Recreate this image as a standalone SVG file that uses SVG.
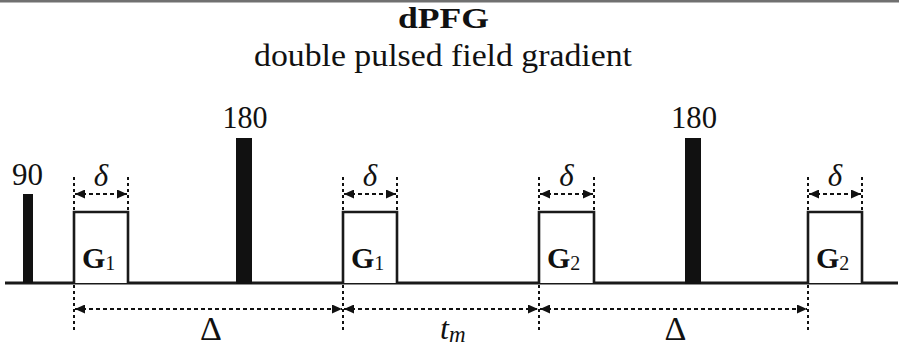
<svg xmlns="http://www.w3.org/2000/svg" width="899" height="348" viewBox="0 0 899 348">
<style>
.serif{font-family:"Liberation Serif","Times New Roman","DejaVu Serif",serif;fill:#111}
.b{font-weight:bold}
.it{font-style:italic}
.dash{stroke:#111;stroke-width:2;stroke-dasharray:4 3;fill:none}
.vdash{stroke:#111;stroke-width:2;stroke-dasharray:3 3;fill:none}
.grad{fill:#fff;stroke:#1a1a1a;stroke-width:2.6}
.pulse{fill:#111}
</style>
<defs>
<marker id="ah" markerUnits="userSpaceOnUse" markerWidth="11" markerHeight="9" refX="10" refY="4.5" orient="auto-start-reverse">
<path d="M0,0 L10,4.5 L0,9 Z" fill="#111"/>
</marker>
</defs>
<rect x="0" y="0" width="899" height="2.5" fill="#707070"/>
<g id="title">
<text class="serif b" x="443.5" y="28" font-size="30" text-anchor="middle" textLength="91" lengthAdjust="spacingAndGlyphs">dPFG</text>
<text class="serif" x="443" y="66" font-size="31" text-anchor="middle" textLength="378" lengthAdjust="spacingAndGlyphs">double pulsed field gradient</text>
</g>
<g id="baseline">
<line x1="5" y1="283" x2="898" y2="283" stroke="#1a1a1a" stroke-width="3"/>
</g>
<g id="pulse90">
<rect class="pulse" x="23" y="194" width="10" height="89"/>
<text class="serif" x="27.5" y="185" font-size="32" text-anchor="middle" textLength="31" lengthAdjust="spacingAndGlyphs">90</text>
</g>
<g id="pulse180a">
<rect class="pulse" x="236" y="138" width="16" height="146"/>
<text class="serif" x="245" y="128" font-size="32" text-anchor="middle" textLength="45" lengthAdjust="spacingAndGlyphs">180</text>
</g>
<g id="pulse180b">
<rect class="pulse" x="685" y="138" width="16" height="146"/>
<text class="serif" x="694" y="128" font-size="32" text-anchor="middle" textLength="46" lengthAdjust="spacingAndGlyphs">180</text>
</g>
<g id="grad1">
<path class="grad" d="M74,283 V212 H128 V283"/>
<text class="serif" x="82" y="268"><tspan class="b" font-size="30">G</tspan><tspan font-size="20" dy="2">1</tspan></text>
<line class="vdash" x1="74" y1="177" x2="74" y2="211"/>
<line class="vdash" x1="128" y1="177" x2="128" y2="211"/>
<line class="dash" x1="75" y1="194" x2="127" y2="194" marker-start="url(#ah)" marker-end="url(#ah)"/>
<text class="serif it" x="101" y="186" font-size="31" text-anchor="middle">δ</text>
</g>
<g id="grad2">
<path class="grad" d="M343,283 V212 H397 V283"/>
<text class="serif" x="351" y="268"><tspan class="b" font-size="30">G</tspan><tspan font-size="20" dy="2">1</tspan></text>
<line class="vdash" x1="343" y1="177" x2="343" y2="211"/>
<line class="vdash" x1="397" y1="177" x2="397" y2="211"/>
<line class="dash" x1="344" y1="194" x2="396" y2="194" marker-start="url(#ah)" marker-end="url(#ah)"/>
<text class="serif it" x="370" y="186" font-size="31" text-anchor="middle">δ</text>
</g>
<g id="grad3">
<path class="grad" d="M539,283 V212 H594 V283"/>
<text class="serif" x="547" y="268"><tspan class="b" font-size="30">G</tspan><tspan font-size="20" dy="2">2</tspan></text>
<line class="vdash" x1="539" y1="177" x2="539" y2="211"/>
<line class="vdash" x1="594" y1="177" x2="594" y2="211"/>
<line class="dash" x1="540" y1="194" x2="593" y2="194" marker-start="url(#ah)" marker-end="url(#ah)"/>
<text class="serif it" x="566.5" y="186" font-size="31" text-anchor="middle">δ</text>
</g>
<g id="grad4">
<path class="grad" d="M808,283 V212 H862 V283"/>
<text class="serif" x="816" y="268"><tspan class="b" font-size="30">G</tspan><tspan font-size="20" dy="2">2</tspan></text>
<line class="vdash" x1="808" y1="177" x2="808" y2="211"/>
<line class="vdash" x1="862" y1="177" x2="862" y2="211"/>
<line class="dash" x1="809" y1="194" x2="861" y2="194" marker-start="url(#ah)" marker-end="url(#ah)"/>
<text class="serif it" x="835" y="186" font-size="31" text-anchor="middle">δ</text>
</g>
<g id="connectors">
<line class="vdash" x1="74" y1="285" x2="74" y2="331"/>
<line class="vdash" x1="343" y1="285" x2="343" y2="331"/>
<line class="vdash" x1="539" y1="285" x2="539" y2="331"/>
<line class="vdash" x1="808" y1="285" x2="808" y2="331"/>
<line class="dash" x1="75" y1="309" x2="342" y2="309" marker-start="url(#ah)" marker-end="url(#ah)"/>
<line class="dash" x1="344" y1="309" x2="538" y2="309" marker-start="url(#ah)" marker-end="url(#ah)"/>
<line class="dash" x1="540" y1="309" x2="807" y2="309" marker-start="url(#ah)" marker-end="url(#ah)"/>
</g>
<g id="labels">
<text class="serif" x="211" y="340" font-size="34" text-anchor="middle">Δ</text>
<text class="serif it" x="440" y="339" font-size="32">t<tspan font-size="23" dy="3">m</tspan></text>
<text class="serif" x="675.5" y="340" font-size="34" text-anchor="middle">Δ</text>
</g>
</svg>
